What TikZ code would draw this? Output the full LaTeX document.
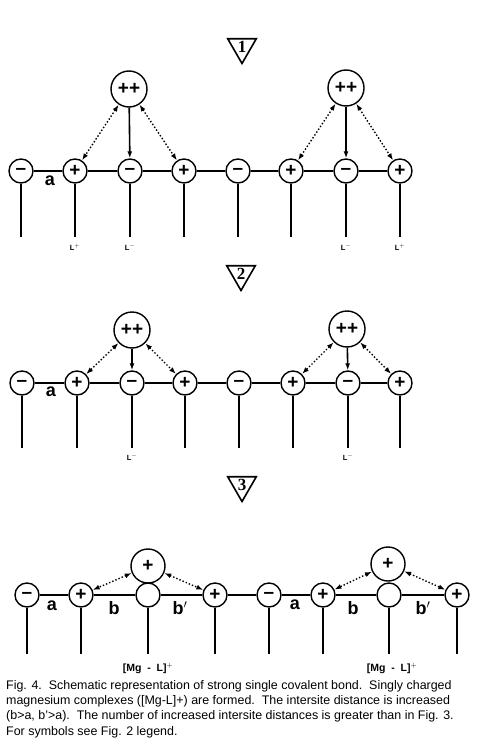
\documentclass[tikz,border=0pt]{standalone}
\usepackage{fontspec}
\setmainfont{Liberation Sans}
\newfontfamily\digitfont{Liberation Serif}
\usetikzlibrary{arrows.meta,shapes.geometric}

\begin{document}
\begin{tikzpicture}[x=1pt,y=-1pt,
	ion/.style={circle,draw,line width=1.4pt,minimum size=24pt,inner sep=0pt,font=\fontsize{19}{19}\selectfont\bfseries},
	mg/.style={ion,minimum size=36pt},
	stepmark/.style={regular polygon,regular polygon sides=3,shape border rotate=180,draw,line width=1.6pt,minimum size=33pt,inner sep=0pt,font=\fontsize{17}{17}\selectfont\digitfont\bfseries},
	bond/.style={line width=1.6pt},
	pull/.style={line width=1.6pt,-{Latex[length=7pt,width=5pt]}},
	dotpull/.style={line width=1.4pt,dotted,{Latex[length=7pt,width=5pt]}-{Latex[length=7pt,width=5pt]}},
	dist/.style={font=\fontsize{18}{18}\selectfont\bfseries},
	lig/.style={font=\fontsize{7.5}{7.5}\selectfont\bfseries},
	cplx/.style={font=\fontsize{10.5}{10.5}\selectfont\bfseries}]
	\useasboundingbox (0,0) rectangle (496,746);
	%\draw[color=gray,step=10pt,help lines,opacity=0.3] (0,0) grid (496,746); %help grids

	% ---- step 1
	\node[stepmark] (s1) at (242,47) {1};
	\foreach \x/\s [count=\i] in {21/{–},75/+,130/{–},184/+,238/{–},291/+,346/{–},400/+}{
		\node[ion] (r1-\i) at (\x,171) {\s};
		\coordinate (e1-\i) at (\x,237);
		\draw[bond] (r1-\i) -- (e1-\i);
	}
	\draw[bond] (r1-1) -- (r1-2) -- (r1-3) -- (r1-4) -- (r1-5) -- (r1-6) -- (r1-7) -- (r1-8);
	\node[mg] (m1-1) at (129,89) {++};
	\node[mg] (m1-2) at (346,88) {++};
	\draw[pull] (m1-1) -- (r1-3);
	\draw[dotpull] (m1-1) -- (r1-2);
	\draw[dotpull] (m1-1) -- (r1-4);
	\draw[pull] (m1-2) -- (r1-7);
	\draw[dotpull] (m1-2) -- (r1-6);
	\draw[dotpull] (m1-2) -- (r1-8);
	\node[dist] (a1) at (50,181) {a};
	\node[lig] (l1-1) at (75,247) {L$^+$};
	\node[lig] (l1-2) at (130,247) {L$^-$};
	\node[lig] (l1-3) at (346,247) {L$^-$};
	\node[lig] (l1-4) at (400,247) {L$^+$};

	% ---- step 2
	\node[stepmark] (s2) at (241,274) {2};
	\foreach \x/\s [count=\i] in {22/{–},77/+,132/{–},185/+,239/{–},293/+,348/{–},400/+}{
		\node[ion] (r2-\i) at (\x,383) {\s};
		\coordinate (e2-\i) at (\x,448);
		\draw[bond] (r2-\i) -- (e2-\i);
	}
	\draw[bond] (r2-1) -- (r2-2) -- (r2-3) -- (r2-4) -- (r2-5) -- (r2-6) -- (r2-7) -- (r2-8);
	\node[mg] (m2-1) at (132,330) {++};
	\node[mg] (m2-2) at (347,329) {++};
	\draw[pull] (m2-1) -- (r2-3);
	\draw[dotpull] (m2-1) -- (r2-2);
	\draw[dotpull] (m2-1) -- (r2-4);
	\draw[pull] (m2-2) -- (r2-7);
	\draw[dotpull] (m2-2) -- (r2-6);
	\draw[dotpull] (m2-2) -- (r2-8);
	\node[dist] (a2) at (51,392) {a};
	\node[lig] (l2-1) at (132,457) {L$^-$};
	\node[lig] (l2-2) at (348,457) {L$^-$};

	% ---- step 3
	\node[stepmark] (s3) at (242,485) {3};
	\foreach \x/\s [count=\i] in {27/{–},81/+,148/{},215/+,269/{–},323/+,389/{},457/+}{
		\node[ion] (r3-\i) at (\x,595) {\s};
		\coordinate (e3-\i) at (\x,654);
		\draw[bond] (r3-\i) -- (e3-\i);
	}
	\draw[bond] (r3-1) -- (r3-2) -- (r3-3) -- (r3-4) -- (r3-5) -- (r3-6) -- (r3-7) -- (r3-8);
	\node[mg,minimum size=34pt] (m3-1) at (148,566) {+};
	\node[mg,minimum size=34pt] (m3-2) at (388,564) {+};
	\draw[dotpull] (m3-1) -- (r3-2);
	\draw[dotpull] (m3-1) -- (r3-4);
	\draw[dotpull] (m3-2) -- (r3-6);
	\draw[dotpull] (m3-2) -- (r3-8);
	\node[dist] (a3-1) at (52,606) {a};
	\node[dist] (b3-1) at (114,608) {b};
	\node[dist] (bb3-1) at (180,608) {b$'$};
	\node[dist] (a3-2) at (295,605) {a};
	\node[dist] (b3-2) at (353,608) {b};
	\node[dist] (bb3-2) at (423,608) {b$'$};
	\node[cplx] (c3-1) at (148,668) {[Mg\ \ -\ \ L]$^+$};
	\node[cplx] (c3-2) at (392,668) {[Mg\ \ -\ \ L]$^+$};

	% ---- caption
	\node[anchor=north west,align=left,inner sep=0pt,font=\fontsize{12.45}{15.3}\selectfont] (cap) at (6,680)
	{Fig. 4.\ \ Schematic representation of strong single covalent bond.\ \ Singly charged\\
	magnesium complexes ([Mg-L]+) are formed.\ \ The intersite distance is increased\\
	(b>a, b'>a).\ \ The number of increased intersite distances is greater than in Fig. 3.\\
	For symbols see Fig. 2 legend.};
\end{tikzpicture}
\end{document}
